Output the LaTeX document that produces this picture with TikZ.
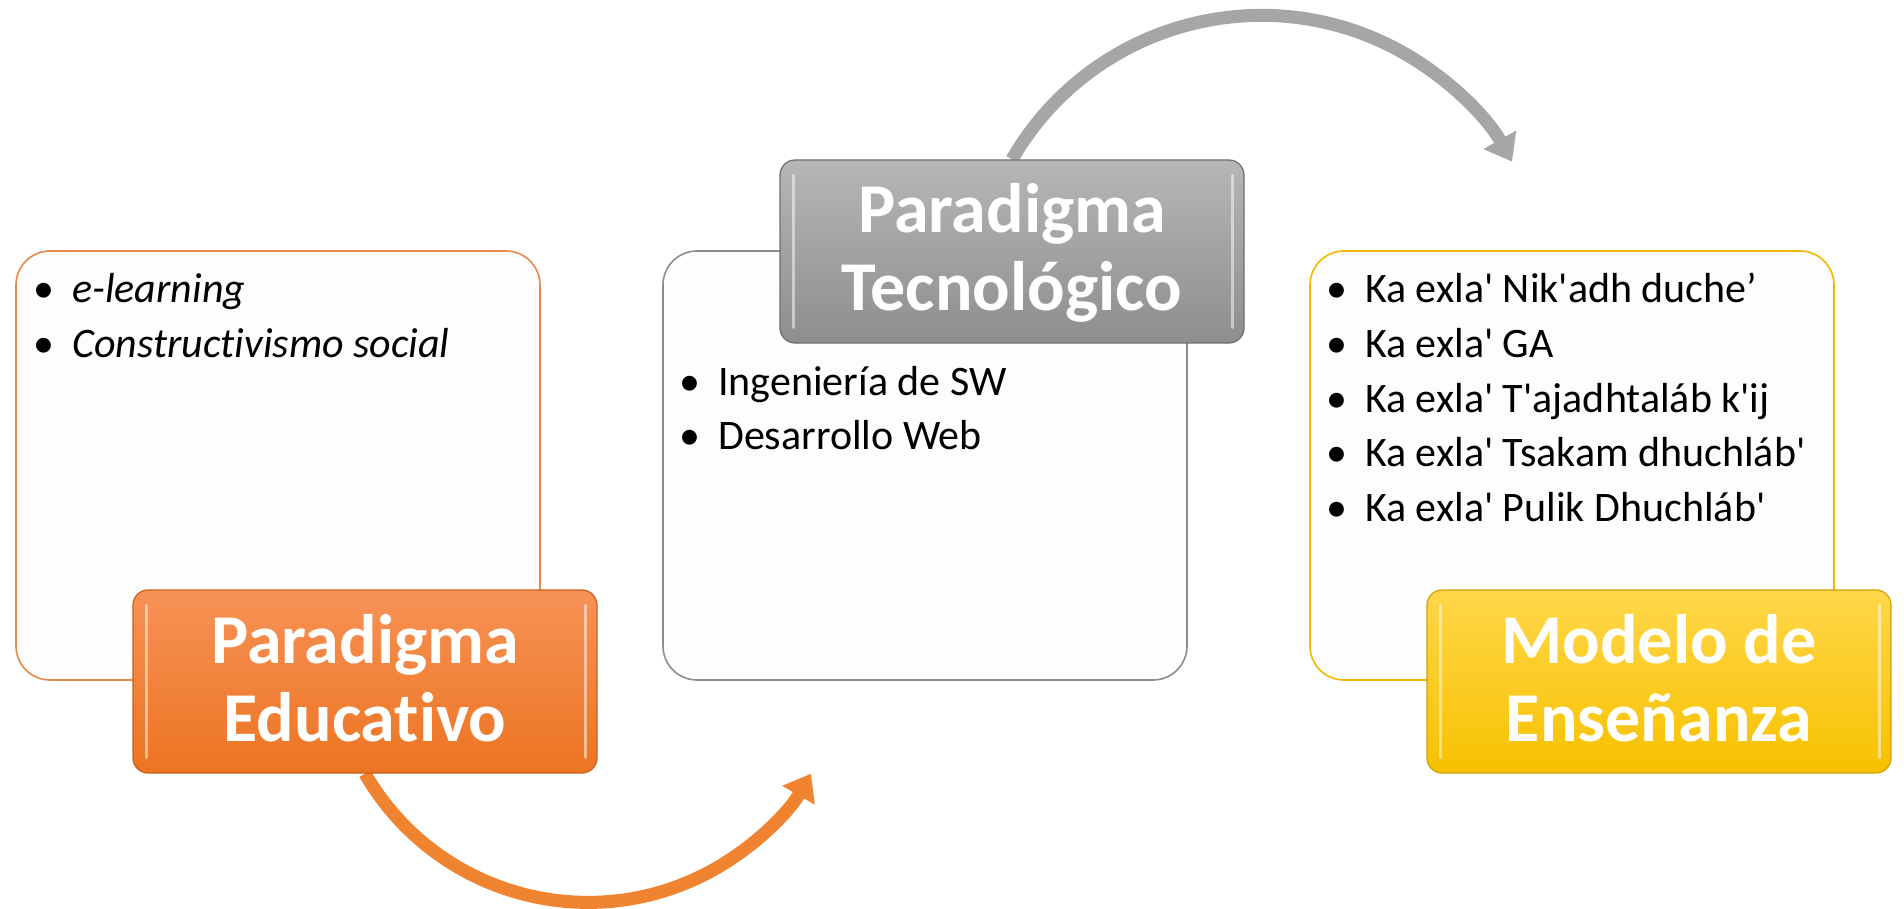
\documentclass[tikz,border=0pt]{standalone}
\usepackage{fontspec}
\setmainfont{Carlito}[Ligatures={TeXOff,NoCommon}]
\usetikzlibrary{arrows.meta,backgrounds}
\definecolor{orTop}{HTML}{F79256}
\definecolor{orBot}{HTML}{EC7422}
\definecolor{orEdge}{HTML}{C8601E}
\definecolor{orLine}{HTML}{E8874A}
\definecolor{orArrow}{HTML}{F0832F}
\definecolor{grTop}{HTML}{B6B6B6}
\definecolor{grBot}{HTML}{8E8E8E}
\definecolor{grEdge}{HTML}{6E6E6E}
\definecolor{grLine}{HTML}{8C8C8C}
\definecolor{grArrow}{HTML}{A6A6A6}
\definecolor{yeTop}{HTML}{FFD74A}
\definecolor{yeBot}{HTML}{F7C100}
\definecolor{yeEdge}{HTML}{D2A000}
\definecolor{yeLine}{HTML}{F0B800}
\definecolor{paper}{HTML}{FDFDFD}
\begin{document}
\begin{tikzpicture}[x=1pt,y=-1pt,
  wbox/.style={draw, line width=1.6pt, fill=paper, rounded corners=34pt,
    minimum width=524pt, minimum height=429pt, inner sep=0pt},
  cbox/.style={draw, line width=1.2pt, rounded corners=15pt,
    minimum width=464pt, minimum height=183pt, inner sep=0pt},
  titletext/.style={font=\fontsize{70}{78}\selectfont\bfseries, text=white,
    anchor=base, inner sep=0pt},
  itemtext/.style={font=\fontsize{42}{54.5}\selectfont, anchor=base west,
    inner sep=0pt, execute at begin node={\llap{\makebox[0pt]{•}\hspace{28pt}}}},
  bigarrow/.style={line width=13pt, -{Triangle[length=25pt,width=36pt]}},
  gloss/.style={white, opacity=0.5, line width=3pt, line cap=round},
]
\useasboundingbox (0,0) rectangle (1904,909);

% white content boxes
\node[wbox, draw=orLine] (lw) at (278,465.5) {};
\node[wbox, draw=grLine] (mw) at (925,465.5) {};
\node[wbox, draw=yeLine] (rw) at (1572,465.5) {};

% coloured title boxes
\node[cbox, draw=orEdge, top color=orTop, bottom color=orBot] (ob) at (365,681.5) {};
\node[cbox, draw=grEdge, top color=grTop, bottom color=grBot] (gb) at (1012,251.5) {};
\node[cbox, draw=yeEdge, top color=yeTop, bottom color=yeBot] (yb) at (1659,681.5) {};

% gloss strips
\foreach \b in {ob,gb,yb}{
  \draw[gloss] ([xshift=14pt,yshift=-16pt]\b.north west) -- ([xshift=14pt,yshift=16pt]\b.south west);
  \draw[gloss] ([xshift=-12pt,yshift=-16pt]\b.north east) -- ([xshift=-12pt,yshift=16pt]\b.south east);
}

% arrows behind the boxes
\begin{scope}[on background layer]
  \draw[bigarrow, color=orArrow] (ob.south) arc[start angle=150, end angle=30, radius=257.5];
  \draw[bigarrow, color=grArrow] (gb.north) arc[start angle=-150, end angle=-29.5, radius=288];
\end{scope}

% titles
\node[titletext] (ob1) at (365,663) {Paradigma};
\node[titletext] (ob2) at (365,741) {Educativo};
\node[titletext] (gb1) at (1012,233) {Paradigma};
\node[titletext] (gb2) at (1012,311) {Tecnológico};
\node[titletext] (yb1) at (1659,663) {Modelo de};
\node[titletext] (yb2) at (1659,741) {Enseñanza};

% left list
\node[itemtext] (l1) at (72,303) {\itshape e-learning};
\node[itemtext] (l2) at (72,357.5) {\itshape Constructivismo social};

% middle list
\node[itemtext] (m1) at (718,395) {Ingeniería de SW};
\node[itemtext] (m2) at (718,449.5) {Desarrollo Web};

% right list
\node[itemtext] (r1) at (1365,303) {Ka exla' Nik'adh duche’};
\node[itemtext] (r2) at (1365,357.5) {Ka exla' GA};
\node[itemtext] (r3) at (1365,412) {Ka exla' T'ajadhtaláb k'ij};
\node[itemtext] (r4) at (1365,466.5) {Ka exla' Tsakam dhuchláb'};
\node[itemtext] (r5) at (1365,521) {Ka exla' Pulik Dhuchláb'};
\end{tikzpicture}
\end{document}
